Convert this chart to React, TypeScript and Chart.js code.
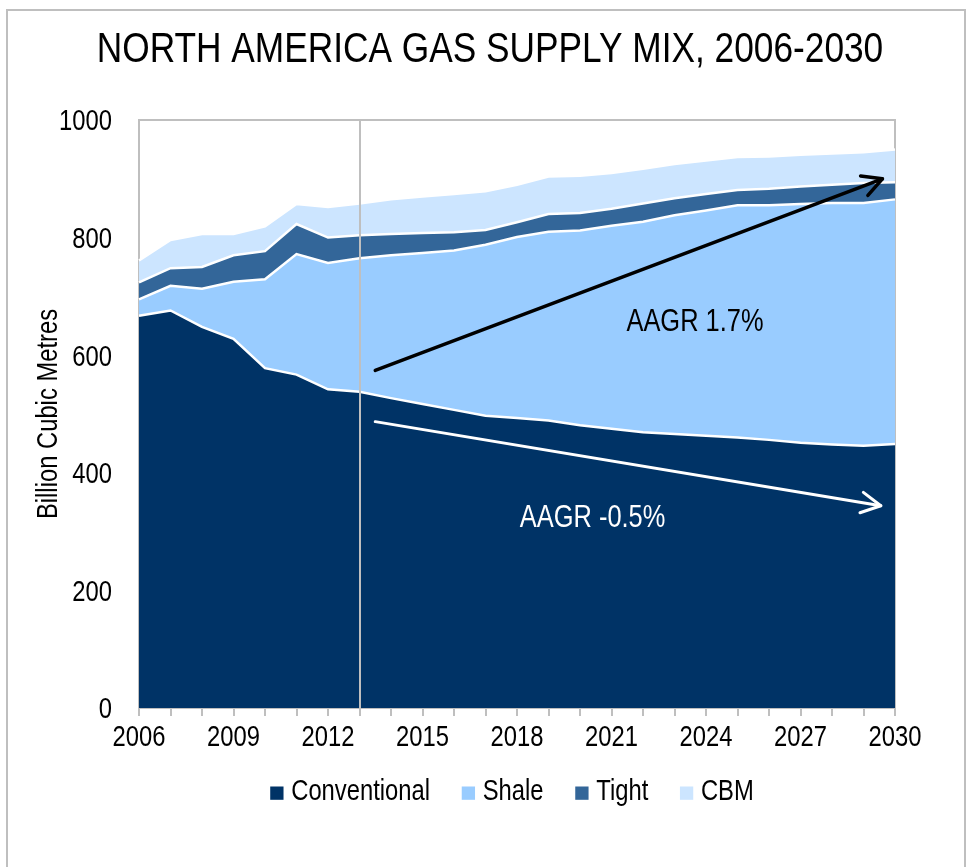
import React, { useEffect, useRef } from "react";
import { Chart, registerables } from "chart.js";

Chart.register(...registerables);

const TITLE = "NORTH AMERICA GAS SUPPLY MIX, 2006-2030";
const Y_TITLE = "Billion Cubic Metres";

const years = [
  "2006", "2007", "2008", "2009", "2010", "2011", "2012", "2013", "2014", "2015",
  "2016", "2017", "2018", "2019", "2020", "2021", "2022", "2023", "2024", "2025",
  "2026", "2027", "2028", "2029", "2030",
];
const labelEvery = 3;

const conventional = [667, 676, 648, 628, 578, 567, 542, 538, 527, 517, 507, 497, 493, 489, 481, 475, 469, 466, 463, 460, 456, 451, 448, 446, 449];
const shale = [28, 42, 65, 97, 151, 205, 215, 227, 243, 257, 271, 291, 308, 321, 331, 345, 358, 372, 383, 395, 399, 406, 411, 413, 416];
const tight = [29, 30, 37, 45, 48, 51, 43, 39, 36, 34, 31, 25, 25, 30, 30, 29, 31, 29, 28, 26, 28, 30, 31, 34, 29];
const cbm = [37, 48, 56, 36, 42, 34, 52, 54, 59, 62, 65, 66, 64, 64, 63, 61, 59, 58, 57, 56, 55, 54, 53, 52, 56];

const seriesNames = ["Conventional", "Shale", "Tight", "CBM"];

const yMin = 0;
const yMax = 1000;
const yStep = 200;

const markerYear = 2013;

const growthArrow = { fromYear: 2013.5, fromValue: 574, toYear: 2029.6, toValue: 900 };
const growthLabel = { text: "AAGR 1.7%", year: 2023.65, value: 660 };
const conventionalArrow = { fromYear: 2013.5, fromValue: 487, toYear: 2029.55, toValue: 344 };
const conventionalLabel = { text: "AAGR -0.5%", year: 2020.4, value: 326 };

// Arial Narrow is not installed: draw Liberation Sans (Arial metrics) condensed to 82%
const BASE_FONT = '"Liberation Sans", Arial, sans-serif';
const NARROW_SCALE = 0.82;
const GRAY = "#BFBFBF";
const TEXT = "#000000";
const COLORS = ["#003366", "#99CCFF", "#336699", "#CCE5FF"];

type Align = "left" | "center" | "right";

// y is the vertical centre of capital letters
function narrowText(ctx: CanvasRenderingContext2D, text: string, x: number, y: number, size: number, align: Align, color: string, rotate = 0) {
  ctx.save();
  ctx.translate(x, y);
  if (rotate) ctx.rotate(rotate);
  ctx.scale(NARROW_SCALE, 1);
  ctx.font = `${size}px ${BASE_FONT}`;
  ctx.fillStyle = color;
  ctx.textAlign = align;
  ctx.textBaseline = "alphabetic";
  ctx.fillText(text, 0, size * 0.358);
  ctx.restore();
}

function narrowWidth(ctx: CanvasRenderingContext2D, text: string, size: number) {
  ctx.save();
  ctx.font = `${size}px ${BASE_FONT}`;
  const w = ctx.measureText(text).width * NARROW_SCALE;
  ctx.restore();
  return w;
}

function drawArrow(ctx: CanvasRenderingContext2D, x1: number, y1: number, x2: number, y2: number, color: string, width: number) {
  const ang = Math.atan2(y2 - y1, x2 - x1);
  const head = 22;
  const spread = (28 * Math.PI) / 180;
  ctx.save();
  ctx.strokeStyle = color;
  ctx.lineWidth = width;
  ctx.lineCap = "round";
  ctx.lineJoin = "round";
  ctx.beginPath();
  ctx.moveTo(x1, y1);
  ctx.lineTo(x2, y2);
  ctx.stroke();
  ctx.beginPath();
  ctx.moveTo(x2 - head * Math.cos(ang - spread), y2 - head * Math.sin(ang - spread));
  ctx.lineTo(x2, y2);
  ctx.lineTo(x2 - head * Math.cos(ang + spread), y2 - head * Math.sin(ang + spread));
  ctx.stroke();
  ctx.restore();
}

const framePlugin = {
  id: "frame",
  beforeDraw(chart: any) {
    const { ctx, width, height } = chart;
    ctx.save();
    ctx.fillStyle = "#ffffff";
    ctx.fillRect(0, 0, width, height);
    ctx.strokeStyle = GRAY;
    ctx.lineWidth = 2;
    ctx.strokeRect(7, 10, width - 14, height + 20);
    ctx.restore();
    narrowText(ctx, TITLE, 490, 46.5, 43, "center", TEXT);
  },
  beforeDatasetsDraw(chart: any) {
    const { ctx, chartArea } = chart;
    ctx.save();
    ctx.strokeStyle = GRAY;
    ctx.lineWidth = 2;
    ctx.strokeRect(chartArea.left, chartArea.top, chartArea.right - chartArea.left, chartArea.bottom - chartArea.top);
    ctx.restore();
  },
  afterDatasetsDraw(chart: any) {
    const { ctx, chartArea, scales } = chart;
    const x = scales.x;
    const y = scales.y;
    const px = (yr: number) => x.getPixelForValue(yr - Number(years[0]));

    ctx.save();
    ctx.strokeStyle = GRAY;
    ctx.lineWidth = 2;
    const mx = Math.round(px(markerYear));
    ctx.beginPath();
    ctx.moveTo(mx, chartArea.top);
    ctx.lineTo(mx, chartArea.bottom + 8);
    ctx.stroke();
    ctx.restore();

    drawArrow(ctx, px(growthArrow.fromYear), y.getPixelForValue(growthArrow.fromValue), px(growthArrow.toYear), y.getPixelForValue(growthArrow.toValue), "#000000", 3.5);
    drawArrow(ctx, px(conventionalArrow.fromYear), y.getPixelForValue(conventionalArrow.fromValue), px(conventionalArrow.toYear), y.getPixelForValue(conventionalArrow.toValue), "#ffffff", 3);

    narrowText(ctx, growthLabel.text, px(growthLabel.year), y.getPixelForValue(growthLabel.value), 31, "center", "#000000");
    narrowText(ctx, conventionalLabel.text, px(conventionalLabel.year), y.getPixelForValue(conventionalLabel.value), 31, "center", "#ffffff");
  },
  afterDraw(chart: any) {
    const { ctx, chartArea, scales } = chart;
    const x = scales.x;
    const y = scales.y;
    // y tick labels
    y.ticks.forEach((t: any, i: number) => {
      narrowText(ctx, String(t.value), chartArea.left - 27, y.getPixelForTick(i), 29, "right", TEXT);
    });
    // x tick labels
    x.ticks.forEach((_t: any, i: number) => {
      if (i % labelEvery !== 0) return;
      narrowText(ctx, years[i], x.getPixelForTick(i), chartArea.bottom + 28, 29, "center", TEXT);
    });
    // y axis title
    narrowText(ctx, Y_TITLE, 47, (chartArea.top + chartArea.bottom) / 2, 29, "center", TEXT, -Math.PI / 2);

    // legend
    const size = 29;
    const box = 13.3;
    const gapText = 7.7;
    const gapItem = 31.7;
    const widths = chart.data.datasets.map((d: any) => narrowWidth(ctx, d.label, size));
    const total = widths.reduce((a: number, w: number) => a + box + gapText + w, 0) + gapItem * (widths.length - 1);
    let cx = (chartArea.left + chartArea.right) / 2 - 5 - total / 2;
    const cy = 791;
    chart.data.datasets.forEach((d: any, i: number) => {
      ctx.save();
      ctx.fillStyle = d.backgroundColor;
      ctx.fillRect(cx, cy - 4.5, box, box);
      ctx.restore();
      narrowText(ctx, d.label, cx + box + gapText, cy - 1, size, "left", TEXT);
      cx += box + gapText + widths[i] + gapItem;
    });
  },
};

export default function App() {
  const ref = useRef<HTMLCanvasElement | null>(null);

  useEffect(() => {
    if (!ref.current) return;
    const values = [conventional, shale, tight, cbm];
    const chart = new Chart(ref.current, {
      type: "line",
      data: {
        labels: years,
        datasets: values.map((data, i) => ({
          label: seriesNames[i],
          data,
          backgroundColor: COLORS[i],
          borderColor: "#ffffff",
          borderWidth: 2.5,
          pointRadius: 0,
          pointHoverRadius: 0,
          tension: 0,
          fill: i === 0 ? "origin" : "-1",
        })),
      },
      options: {
        animation: false,
        responsive: false,
        devicePixelRatio: 1,
        events: [],
        layout: { padding: { left: 0, right: 77, top: 120, bottom: 149 } },
        plugins: {
          title: { display: false },
          legend: { display: false },
          tooltip: { enabled: false },
        },
        scales: {
          x: {
            type: "category",
            offset: false,
            afterFit: (s: any) => {
              s.height = 10;
            },
            grid: {
              display: true,
              drawOnChartArea: false,
              drawTicks: true,
              tickLength: 8,
              color: GRAY,
              lineWidth: 2,
            },
            border: { display: true, color: GRAY, width: 2 },
            ticks: { display: false, autoSkip: false, maxRotation: 0 },
          },
          y: {
            stacked: true,
            min: yMin,
            max: yMax,
            afterFit: (s: any) => {
              s.width = 139;
            },
            grid: { display: false, drawTicks: false },
            border: { display: true, color: GRAY, width: 2 },
            ticks: { display: false, stepSize: yStep },
          },
        },
      },
      plugins: [framePlugin],
    } as any);
    return () => chart.destroy();
  }, []);

  return (
    <div style={{ position: "fixed", left: 0, top: 0, width: 972, height: 867, background: "#fff" }}>
      <canvas ref={ref} width={972} height={867} style={{ display: "block", width: 972, height: 867 }} />
    </div>
  );
}
